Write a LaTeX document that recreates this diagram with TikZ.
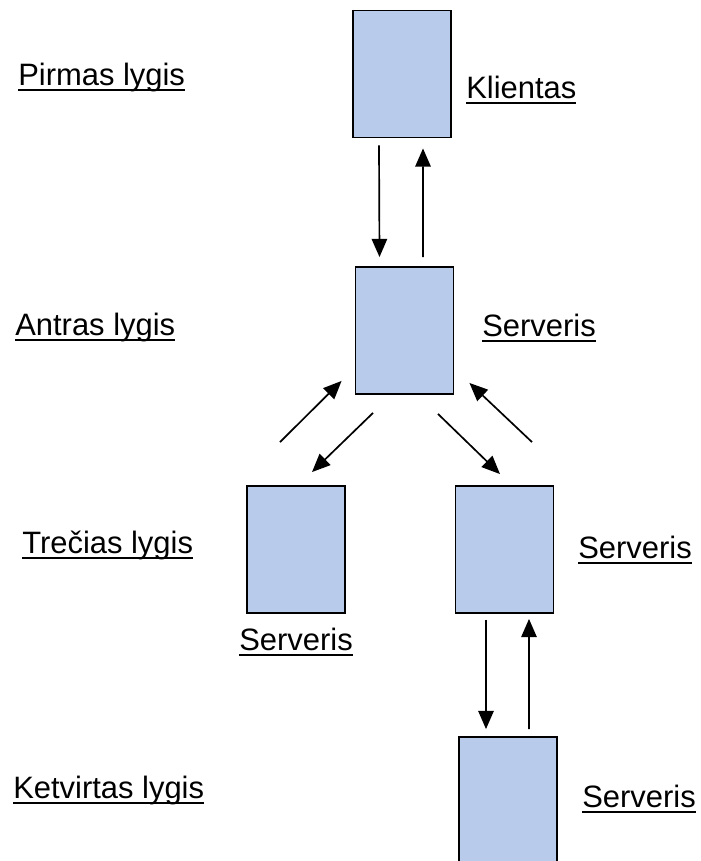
\documentclass[tikz,border=0pt]{standalone}
\usepackage{fontspec}
\setmainfont{Liberation Sans}
\usetikzlibrary{arrows.meta}
\definecolor{boxblue}{RGB}{185,203,234}
\newcommand\ulined[1]{\setbox0=\hbox{#1}\rlap{\vrule height -2.9pt depth 4.3pt width \wd0}\box0}

\begin{document}
\begin{tikzpicture}[
    x=0.025cm, y=-0.025cm,
    component/.style={draw, line width=1.3pt, fill=boxblue, minimum width=2.45cm, minimum height=3.175cm},
    arrow/.style={-{Triangle[length=13pt,width=11pt]}, line width=1.2pt},
    tier/.style={anchor=base west, inner sep=0pt, font=\fontsize{22}{26}\selectfont}
]
\useasboundingbox (0,0) rectangle (700,861);
\clip (0,0) rectangle (700,861);

% Levels
\node[tier] (l1) at (18,85) {\ulined{Pirmas lygis}};
\node[tier] (l2) at (15,335) {\ulined{Antras lygis}};
\node[tier] (l3) at (22,553) {\ulined{Trečias lygis}};
\node[tier] (l4) at (13,798) {\ulined{Ketvirtas lygis}};

% Boxes
\node[component] (client) at (402,74) {};
\node[component] (srv2) at (404.5,330.5) {};
\node[component] (srv3a) at (296,549.5) {};
\node[component] (srv3b) at (504.5,549.5) {};
\node[component] (srv4) at (508,800.5) {};

% Names
\node[tier] (nclient) at (466,98) {\ulined{Klientas}};
\node[tier] (nsrv2) at (482,336) {\ulined{Serveris}};
\node[tier] (nsrv3a) at (239,650) {\ulined{Serveris}};
\node[tier] (nsrv3b) at (578,558) {\ulined{Serveris}};
\node[tier] (nsrv4) at (582,807) {\ulined{Serveris}};

% Arrows
\draw[arrow] ([shift={(-23,7)}]client.south) -- ([shift={(-25,-9)}]srv2.north);
\draw[arrow] ([shift={(18.5,-9)}]srv2.north) -- ([shift={(21,10)}]client.south);

\draw[arrow] ([shift={(-16,-43)}]srv3a.north) -- ([shift={(-13,-14)}]srv2.south west);
\draw[arrow] ([shift={(-31.5,18)}]srv2.south) -- ([shift={(16,-13)}]srv3a.north);
\draw[arrow] ([shift={(33.5,19)}]srv2.south) -- ([shift={(-4.5,-11)}]srv3b.north);
\draw[arrow] ([shift={(27.5,-43)}]srv3b.north) -- ([shift={(15,-12)}]srv2.south east);

\draw[arrow] ([shift={(-18.5,6)}]srv3b.south) -- ([shift={(-22,-7)}]srv4.north);
\draw[arrow] ([shift={(21,-7)}]srv4.north) -- ([shift={(24.5,5)}]srv3b.south);

\end{tikzpicture}
\end{document}
